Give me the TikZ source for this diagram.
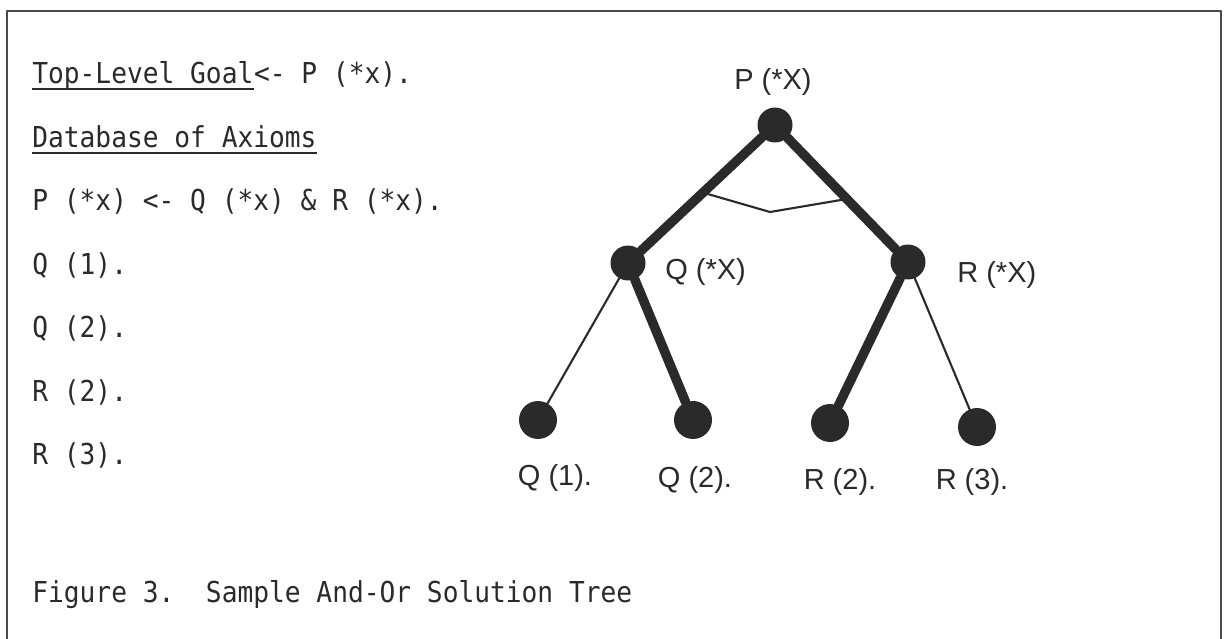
\documentclass[tikz,border=0pt]{standalone}
\usepackage{fontspec}
\setmainfont{Liberation Sans}
\newfontfamily\scanmono[FakeStretch=0.91]{DejaVu Sans Mono}
\usetikzlibrary{calc}
\definecolor{ink}{HTML}{2A2A2A}

\begin{document}
\begin{tikzpicture}[x=0.02cm,y=-0.02cm,line cap=round,line join=round,
  every node/.style={inner sep=0pt,text=ink},
  mono/.style={anchor=base west,font=\scanmono\fontsize{16.4}{20}\selectfont},
  hand/.style={font=\fontsize{16.5}{19}\selectfont},
  dot/.style={circle,fill=ink,minimum size=0.7cm},
  leaf/.style={circle,fill=ink,minimum size=0.76cm},
  solved/.style={draw=ink,line width=5.4pt},
  open/.style={draw=ink,line width=1.2pt},
  uline/.style={draw=ink,line width=1.2pt,line cap=butt}]
  \def\lx{32}
  \useasboundingbox (0,0) rectangle (1224,639);
  % frame, open at the bottom
  \draw[ink!85,line width=1pt] (7,639) -- (7,11) -- (1221,11) -- (1221,639);
  % goal and axioms
  \node[mono] (goal) at (\lx,83) {Top-Level Goal};
  \node[mono] (goalrest) at (goal.base east) {<- P (*x).};
  \node[mono] (db) at (\lx,147) {Database of Axioms};
  \draw[uline] ([yshift=-3.2pt]goal.base west) -- ([yshift=-3.2pt]goal.base east);
  \draw[uline] ([yshift=-3.2pt]db.base west) -- ([yshift=-3.2pt]db.base east);
  \node[mono] (rule) at (\lx,210) {P (*x) <- Q (*x) \& R (*x).};
  \node[mono] (ax1) at (\lx,274) {Q (1).};
  \node[mono] (ax2) at (\lx,337) {Q (2).};
  \node[mono] (ax3) at (\lx,401) {R (2).};
  \node[mono] (ax4) at (\lx,464) {R (3).};
  \node[mono] (caption) at (\lx,602) {Figure 3.\ \ Sample And-Or Solution Tree};
  % tree
  \node[dot] (P) at (775,125) {};
  \node[dot] (Q) at (628,263) {};
  \node[dot] (R) at (908,262) {};
  \node[leaf] (Q1) at (538,420) {};
  \node[leaf] (Q2) at (693,420) {};
  \node[leaf] (R2) at (830,423) {};
  \node[leaf] (R3) at (977,427) {};
  \draw[solved] (P) -- (Q);
  \draw[solved] (P) -- (R);
  \draw[open] (Q) -- (Q1);
  \draw[solved] (Q) -- (Q2);
  \draw[solved] (R) -- (R2);
  \draw[open] (R) -- (R3);
  % and-arc
  \coordinate (andmid) at (770,212);
  \draw[open] ($(P)!0.49!(Q)$) -- (andmid) -- ($(P)!0.54!(R)$);
  % labels
  \node[hand] (Plab) at (773,82) {P (*X)};
  \node[hand,anchor=west] (Qlab) at (665,272) {Q (*X)};
  \node[hand,anchor=west] (Rlab) at (957,275) {R (*X)};
  \node[hand] (Q1lab) at (555,478) {Q (1).};
  \node[hand] (Q2lab) at (695,480) {Q (2).};
  \node[hand] (R2lab) at (840,482) {R (2).};
  \node[hand] (R3lab) at (972,482) {R (3).};
\end{tikzpicture}
\end{document}
